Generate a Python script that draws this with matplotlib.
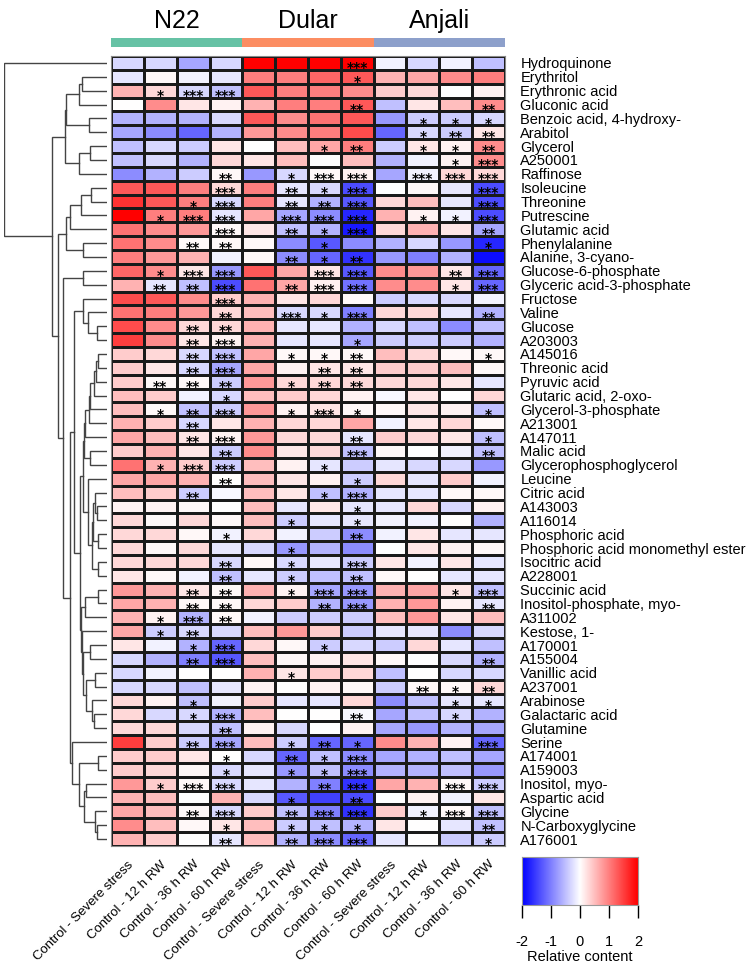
import numpy as np
import matplotlib
matplotlib.use('Agg')
import matplotlib.pyplot as plt
from matplotlib.colors import LinearSegmentedColormap

plt.rcParams['font.family'] = ['Liberation Sans', 'DejaVu Sans']

metabolites = [
    "Hydroquinone", "Erythritol", "Erythronic acid", "Gluconic acid",
    "Benzoic acid, 4-hydroxy-", "Arabitol", "Glycerol", "A250001", "Raffinose",
    "Isoleucine", "Threonine", "Putrescine", "Glutamic acid", "Phenylalanine",
    "Alanine, 3-cyano-", "Glucose-6-phosphate", "Glyceric acid-3-phosphate",
    "Fructose", "Valine", "Glucose", "A203003", "A145016", "Threonic acid",
    "Pyruvic acid", "Glutaric acid, 2-oxo-", "Glycerol-3-phosphate", "A213001",
    "A147011", "Malic acid", "Glycerophosphoglycerol", "Leucine", "Citric acid",
    "A143003", "A116014", "Phosphoric acid", "Phosphoric acid monomethyl ester",
    "Isocitric acid", "A228001", "Succinic acid", "Inositol-phosphate, myo-",
    "A311002", "Kestose, 1-", "A170001", "A155004", "Vanillic acid", "A237001",
    "Arabinose", "Galactaric acid", "Glutamine", "Serine", "A174001", "A159003",
    "Inositol, myo-", "Aspartic acid", "Glycine", "N-Carboxyglycine", "A176001",
]

conditions = ["Control - Severe stress", "Control - 12 h RW",
              "Control - 36 h RW", "Control - 60 h RW"] * 3
genotypes = ["N22", "Dular", "Anjali"]
genotype_colors = ["#66C2A5", "#FC8D62", "#8DA0CB"]

# relative content (N22 x4 | Dular x4 | Anjali x4)
values = [
    [-0.3, -0.3, -0.7, -0.3, 2.0, 2.0, 2.0, 2.0, -0.1, -0.3, -0.1, -0.5],
    [-0.2, 0.05, -0.1, -0.2, 1.0, 1.0, 1.2, 1.3, 0.6, 0.7, 0.9, 1.0],
    [0.6, 0.3, -0.3, -0.5, 1.3, 1.0, 1.0, 0.9, 0.4, 0.3, 0.0, 0.1],
    [0.0, 0.9, 0.2, 0.1, 0.6, 1.0, 1.0, 1.3, -0.5, 0.2, 0.5, 0.9],
    [-0.6, -0.6, -0.6, -0.3, 1.3, 0.9, 1.1, 1.3, -0.8, -0.4, -0.4, -0.3],
    [-0.7, -0.9, -1.2, -0.6, 0.8, 0.9, 1.0, 1.4, -1.2, -0.3, -0.4, 0.2],
    [-0.5, -0.3, -0.4, 0.2, 0.0, 0.5, 0.7, 1.0, -0.4, 0.2, 0.1, 0.9],
    [-0.5, -0.3, -0.6, 0.3, 0.2, 0.5, 0.0, 0.5, -0.6, -0.1, 0.1, 0.9],
    [-0.9, -0.6, -0.4, 0.05, -0.8, -0.3, 0.05, 0.1, -0.7, -0.1, 0.3, 0.3],
    [1.3, 1.3, 1.0, 0.3, 1.0, -0.2, -0.3, -1.4, 0.0, 0.05, -0.2, -1.4],
    [1.6, 1.3, 1.0, -0.3, 1.0, -0.2, -0.6, -1.3, 0.3, 0.5, -0.2, -1.4],
    [2.0, 1.0, 1.0, -0.2, 0.7, -0.7, -0.9, -1.7, 0.6, 0.1, -0.1, -1.4],
    [1.1, 0.9, 0.8, 0.05, 0.2, -0.5, -0.6, -1.8, 0.3, 0.6, 0.2, -0.7],
    [1.1, 0.9, 0.05, 0.05, 0.05, -0.9, -1.3, -0.9, -0.6, -0.3, -0.8, -1.7],
    [1.0, 0.8, 0.6, -0.1, 0.05, -0.9, -1.2, -1.6, -0.8, -1.0, -0.6, -1.9],
    [1.2, 0.9, 0.2, -0.8, 1.3, 0.7, 0.2, -1.3, 0.9, 0.8, 0.2, -1.2],
    [0.6, -0.2, -0.5, -1.4, 1.1, 0.7, 0.1, -1.1, 0.9, 0.9, 0.2, -1.2],
    [1.4, 1.3, 0.9, 0.4, 0.6, 0.2, 0.3, 0.05, -0.4, -0.3, -0.3, -0.1],
    [1.1, 1.0, 0.8, 0.3, 0.5, -0.3, -0.3, -1.0, 0.3, 0.3, -0.2, -0.6],
    [1.4, 0.9, 0.3, 0.3, 0.6, -0.2, -0.2, -0.6, -0.3, -0.5, -0.9, -0.5],
    [1.5, 0.9, 0.2, 0.1, 0.6, -0.2, -0.2, -0.7, -0.4, -0.4, -0.4, -0.6],
    [0.4, 0.3, -0.3, -0.5, 0.7, 0.05, 0.05, 0.05, 0.5, 0.3, 0.05, 0.05],
    [0.4, 0.2, -0.3, -0.7, 0.7, 0.1, 0.2, 0.2, 0.4, 0.4, 0.5, 0.05],
    [0.4, 0.05, 0.05, -0.4, 0.8, 0.3, 0.3, 0.3, 0.3, 0.3, 0.2, -0.2],
    [0.5, 0.4, -0.1, -0.3, 0.5, 0.4, 0.3, 0.1, -0.05, 0.2, 0.0, 0.3],
    [0.5, 0.05, -0.5, -0.4, 0.8, 0.1, 0.2, 0.05, 0.05, 0.2, 0.1, -0.5],
    [0.6, 0.4, -0.3, 0.2, 0.6, 0.3, 0.3, 0.7, -0.1, 0.2, 0.3, 0.05],
    [0.7, 0.5, 0.2, 0.1, 0.8, 0.3, 0.3, -0.2, 0.4, 0.3, 0.2, -0.5],
    [0.4, 0.6, 0.2, -0.4, 0.9, 0.2, 0.3, -0.5, 0.05, 0.0, -0.1, -0.5],
    [1.1, 0.6, 0.4, -0.4, 0.5, 0.1, -0.2, -0.4, -0.2, -0.3, -0.3, -0.8],
    [0.7, 0.7, 0.6, 0.0, 0.5, 0.2, 0.1, -0.4, 0.3, -0.2, 0.4, -0.1],
    [0.5, 0.4, -0.4, -0.05, 0.5, 0.2, -0.5, -0.6, -0.2, -0.2, 0.05, 0.05],
    [0.1, 0.1, 0.05, 0.0, 0.5, -0.2, 0.2, -0.2, -0.2, 0.3, -0.3, 0.1],
    [0.3, 0.05, 0.3, 0.05, 0.5, -0.4, -0.2, -0.2, -0.1, -0.1, 0.0, -0.6],
    [0.3, 0.3, 0.05, -0.1, 0.3, -0.1, -0.4, -0.9, -0.1, 0.2, -0.2, -0.2],
    [0.3, 0.05, 0.3, -0.2, -0.3, -0.8, -0.6, -0.9, 0.0, 0.2, 0.1, 0.05],
    [0.3, 0.3, 0.3, -0.3, 0.05, -0.3, -0.2, -0.4, 0.2, -0.1, 0.2, -0.2],
    [0.2, 0.05, -0.1, -0.5, -0.2, -0.4, -0.5, -0.5, 0.05, 0.0, -0.2, -0.2],
    [0.8, 0.6, 0.2, 0.05, 0.6, 0.1, -0.7, -0.8, 0.6, 0.7, 0.2, -0.5],
    [0.7, 0.6, 0.05, 0.05, 0.3, 0.4, -0.6, -0.8, 0.6, 0.8, 0.1, -0.2],
    [0.6, 0.1, -0.6, 0.05, -0.1, -0.4, -0.4, -0.4, 0.5, 0.8, 0.2, 0.5],
    [0.7, -0.4, -0.3, -0.3, 0.5, 0.8, 0.4, -0.4, -0.2, -0.2, -0.9, -0.3],
    [0.2, -0.1, -0.6, -1.2, 0.3, 0.05, -0.4, -0.3, -0.4, 0.3, -0.2, -0.5],
    [-0.3, -0.6, -1.0, -1.3, 0.5, 0.05, 0.1, 0.2, 0.05, 0.0, -0.3, -0.6],
    [-0.3, -0.1, 0.0, 0.0, 0.6, 0.2, 0.4, 0.3, -0.5, 0.0, -0.3, -0.3],
    [-0.3, -0.3, -0.5, -0.2, 0.1, 0.0, 0.1, 0.05, -0.4, 0.05, 0.05, 0.3],
    [0.3, 0.1, -0.5, -0.1, 0.4, -0.2, -0.2, 0.3, -0.9, -0.5, -0.2, -0.2],
    [0.3, -0.3, -0.3, -0.6, 0.5, 0.0, 0.0, -0.05, -0.7, -0.5, -0.3, -0.6],
    [0.3, 0.3, -0.3, -0.5, 0.1, -0.3, 0.0, 0.1, -0.7, -0.8, -0.6, -0.7],
    [1.5, 0.4, -0.4, -0.7, 0.5, -0.4, -1.2, -1.2, 0.9, 0.6, 0.1, -1.2],
    [0.4, 0.4, 0.2, 0.0, -0.3, -1.2, -0.5, -0.9, -0.7, -0.6, -0.5, -0.7],
    [0.4, 0.3, 0.05, -0.3, -0.2, -0.8, -0.5, -0.9, -0.6, -0.6, -0.5, -0.8],
    [0.8, 0.4, 0.05, -0.3, -0.2, -0.6, -1.0, -1.6, 0.7, 0.6, 0.05, -0.4],
    [0.6, 0.5, 0.0, 0.6, -0.3, -1.3, -1.5, -1.4, 0.0, 0.1, -0.1, 0.2],
    [0.7, 0.5, 0.05, -0.3, 0.4, -0.5, -1.0, -1.6, 0.4, -0.1, 0.05, -0.5],
    [0.9, 0.5, 0.05, 0.2, 0.5, -0.4, -0.5, -0.6, 0.2, 0.0, -0.2, -0.5],
    [0.6, 0.4, 0.0, -0.2, 0.5, -0.6, -0.9, -1.2, -0.2, 0.0, -0.4, -0.4],
]

# number of significance stars per cell
stars = [
    "000000030000", "000000010000", "013300000000", "000000020002",
    "000000000111", "000000000122", "000000120112", "000000000013",
    "000201330333", "000302130003", "001302230003", "013303330113",
    "000302130002", "002200100001", "000002120000", "013300330023",
    "022302330013", "000300000000", "000203130002", "002200000000",
    "002300010000", "002301120001", "002300220000", "022201220000",
    "000100000000", "012301310001", "002000000000", "002300020001",
    "000200030002", "013300100000", "000200010000", "002000130000",
    "000000010000", "000001010000", "000100020000", "000001000000",
    "000201030000", "000201020000", "002201330013", "002200230002",
    "013200000000", "012000000000", "001300100000", "002300000002",
    "000001000000", "000000000212", "001000000011", "001300020010",
    "000200000000", "002301210003", "000102130000", "000101130000",
    "013300230033", "000001020000", "002302330133", "000101110002",
    "000202330001",
]

# row dendrogram: (left, right, merge height); leaves are 1-based row numbers
tree_A = (((((2, 3, 2.44), 4, 2.69), (5, 6, 1.79), 3.99), ((7, 8, 1.69), 9, 2.69), 4.12))
tree_B1 = ((((10, 11, 1.56), 12, 2.50), 13, 3.57), (14, 15, 2.37), 3.99)
tree_G = (18, (19, (20, 21, 0.97), 1.88), 2.37)
tree_I1 = ((((((22, 23, 0.91), 24, 1.04), 25, 1.30), 26, 1.62), 27, 1.79), 28, 2.11)
tree_I6 = (((32, (33, 34, 0.97), 1.20), (35, 36, 0.88), 1.36), (37, 38, 0.91), 1.46)
tree_I = ((tree_I1, (29, 30, 1.62), 2.20), (31, tree_I6, 1.88), 2.30)
tree_J = (((39, 40, 0.88), 41, 2.11),
          (42, ((43, 44, 1.62), ((45, 46, 1.14), (47, (48, 49, 1.30), 1.46), 2.01), 2.37), 2.44), 2.50)
tree_F = (50, ((51, 52, 0.88), ((53, 54, 2.01), (55, (56, 57, 0.97), 1.14), 2.27), 2.69), 3.41)
tree_D = (((tree_G, (tree_I, tree_J, 2.60), 3.25)), tree_F, 3.57)
tree_B = (tree_B1, ((16, 17, 2.37), tree_D, 4.32), 4.71)
tree = (1, (tree_A, tree_B, 5.36), 10.0)

# ---------------------------------------------------------------
W, H = 756, 966
fig = plt.figure(figsize=(W / 100, H / 100), dpi=100)


def px_axes(x0, y0, x1, y1):
    return fig.add_axes([x0 / W, 1 - y1 / H, (x1 - x0) / W, (y1 - y0) / H])


HX0, HX1, HY0, HY1 = 111, 505, 56, 846
data = np.array(values)
nr, nc = data.shape
cmap = LinearSegmentedColormap.from_list("bwr2", ["#0000FF", "#FFFFFF", "#FF0000"])

ax = px_axes(HX0, HY0, HX1, HY1)
ax.pcolormesh(np.arange(nc + 1), np.arange(nr + 1), data, cmap=cmap,
              vmin=-2, vmax=2, edgecolors="#1a1a1a", linewidth=0.8)
ax.set_xlim(0, nc)
ax.set_ylim(nr, 0)
for i in range(nr):
    for j in range(nc):
        k = int(stars[i][j])
        if k:
            ax.text(j + 0.5, i + 0.5 + 0.66, "*" * k, ha="center", va="baseline",
                    fontsize=10, fontweight="bold", family="DejaVu Sans",
                    color="black")
ax.yaxis.tick_right()
ax.set_yticks(np.arange(nr) + 0.5)
ax.set_yticklabels(metabolites, fontsize=10.5)
ax.tick_params(axis="y", length=0, pad=11)
ax.set_xticks(np.arange(nc) + 0.5)
ax.set_xticklabels(conditions, rotation=45, ha="right", rotation_mode="anchor",
                   fontsize=9.5)
ax.tick_params(axis="x", length=0, pad=9)
for s in ax.spines.values():
    s.set_color("#888888")
    s.set_linewidth(0.8)

# dendrogram
dax = px_axes(4, HY0, 107, HY1)
dax.set_xlim(tree[2], 0)
dax.set_ylim(nr, 0)
dax.axis("off")


def draw(node):
    if isinstance(node, int):
        return node - 0.5, 0.0
    l, r, h = node
    yl, hl = draw(l)
    yr, hr = draw(r)
    dax.plot([hl, h, h, hr], [yl, yl, yr, yr], color="#444444", lw=1.0,
             solid_joinstyle="miter")
    return (yl + yr) / 2, h


draw(tree)

# genotype colour bar and labels
gax = px_axes(HX0, 38, HX1, 47)
gax.set_xlim(0, nc)
gax.set_ylim(0, 1)
gax.axis("off")
for g, (name, col) in enumerate(zip(genotypes, genotype_colors)):
    gax.bar(g * 4, 1, width=4, align="edge", color=col, edgecolor="none")
    fig.text((HX0 + (HX1 - HX0) * (g * 4 + 2) / nc) / W, 1 - 21 / H, name,
             ha="center", va="center", fontsize=18)

# colour key
cax = px_axes(522, 857, 638, 905)
cax.imshow(np.linspace(-2, 2, 256)[None, :], aspect="auto", cmap=cmap,
           extent=[-2, 2, 0, 1], vmin=-2, vmax=2)
cax.set_yticks([])
ticks = [-2, -1, 0, 1, 2]
cax.set_xticks(ticks)
cax.set_xticklabels([str(t) for t in ticks], fontsize=10.5)
cax.tick_params(axis="x", length=9.5, width=1, direction="out", pad=12)
cax.set_xlabel("Relative content", fontsize=10.5, labelpad=1)
for s in cax.spines.values():
    s.set_color("#999999")
    s.set_linewidth(0.8)

fig.savefig("out.png", dpi=100)
